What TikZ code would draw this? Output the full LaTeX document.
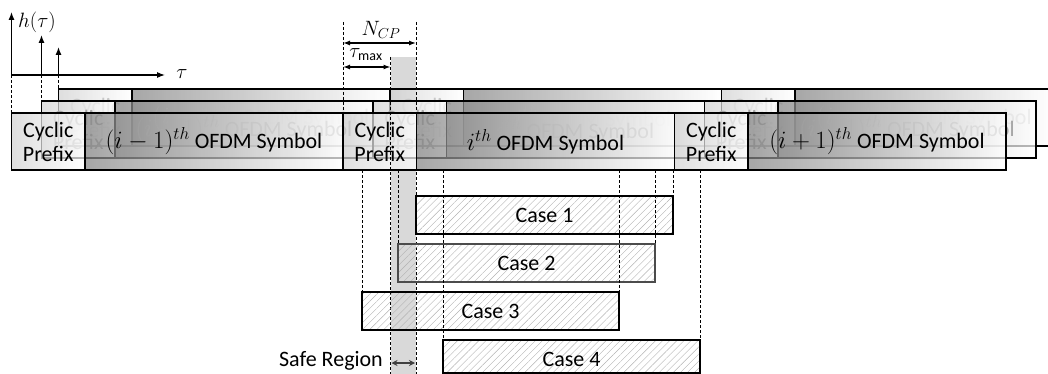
\documentclass[tikz,border=0pt]{standalone}
\usepackage{fontspec}
\setmainfont{Carlito}
\usetikzlibrary{arrows.meta,patterns.meta}
\tikzset{
  rowbox/.style={draw=black, line width=1.1pt, outer sep=0pt, inner sep=0pt,
    minimum height=57pt, align=center, font=\fontsize{22}{24}\selectfont,
    fill opacity=0.72, text opacity=1},
  cpbox/.style={rowbox, minimum width=73.5pt, left color=black!18, right color=white},
  symbox/.style={rowbox, minimum width=258pt, left color=black!48, right color=white},
  casebox/.style={draw=black, line width=1.1pt, outer sep=0pt, inner sep=0pt,
    minimum height=38pt, minimum width=257pt, anchor=north west,
    pattern={Lines[angle=45,distance=5pt,line width=0.4pt]}, pattern color=black!30,
    font=\fontsize{22}{24}\selectfont},
  dline/.style={dash pattern=on 3pt off 2pt, line width=0.9pt},
  axisarrow/.style={line width=1.1pt, -{Latex[length=8pt,width=6pt]}},
  dimarrow/.style={line width=1.3pt, {Latex[length=7pt,width=5pt]}-{Latex[length=7pt,width=5pt]}},
  safearrow/.style={line width=1.3pt, draw=black!75, {Stealth[length=6pt,width=6pt]}-{Stealth[length=6pt,width=6pt]}},
  serlabel/.style={font=\fontsize{20}{22}\selectfont, inner sep=0pt},
  safestrip/.style={fill=black!15, draw=none, inner sep=0pt, outer sep=0pt, anchor=north west}
}
\newcommand\symmath[1]{{\fontsize{25}{24}\selectfont$#1$}}
\newcommand\ofdmrow[4]{%
  \node[cpbox, text=#4, anchor=north west] (#1cpA) at (#2,#3) {Cyclic\\Prefix};
  \node[symbox, text=#4, anchor=north west] (#1symA) at (#1cpA.north east) {\symmath{(i-1)^{th}} OFDM Symbol};
  \node[cpbox, text=#4, anchor=north west] (#1cpB) at (#1symA.north east) {Cyclic\\Prefix};
  \node[symbox, text=#4, anchor=north west] (#1symB) at (#1cpB.north east) {\symmath{i^{th}} OFDM Symbol};
  \node[cpbox, text=#4, anchor=north west] (#1cpC) at (#1symB.north east) {Cyclic\\Prefix};
  \node[symbox, text=#4, anchor=north west] (#1symC) at (#1cpC.north east) {\symmath{(i+1)^{th}} OFDM Symbol};
}
\begin{document}
\begin{tikzpicture}[x=1pt,y=-1pt]
\useasboundingbox (0,0) rectangle (1048,374);
\coordinate (topline) at (0,22);
\coordinate (botline) at (0,374);
% safe region strip
\node[safestrip, minimum width=25.5pt, minimum height=317pt] (safe) at (390.5,57) {};
% channel impulse response axes
\coordinate (o) at (11.5,75);
\coordinate (ytip) at (11.5,12);
\coordinate (xtip) at (165,75);
\coordinate (imp1b) at (41.5,75);
\coordinate (imp1t) at (41.5,35);
\coordinate (imp2b) at (58.5,75);
\coordinate (imp2t) at (58.5,47);
\draw[axisarrow] (o) -- (ytip);
\draw[axisarrow] (o) -- (xtip);
\draw[axisarrow] (imp1b) -- (imp1t);
\draw[axisarrow] (imp2b) -- (imp2t);
\node[serlabel] (hlbl) at (37,22) {$h(\tau)$};
\node[serlabel] (taulbl) at (182,74) {$\tau$};
% rows of OFDM symbols
\ofdmrow{b}{58.5}{89}{black!22}
\ofdmrow{m}{41.5}{101}{black!35}
\ofdmrow{f}{11.5}{113}{black}
% dashed guides from the impulses
\draw[dline] (o) -- (fcpA.north west);
\draw[dline] (imp1b) -- (mcpA.north west);
\draw[dline] (imp2b) -- (bcpA.north west);
% CP guides
\draw[dline] (fcpB.north west |- topline) -- (fcpB.north west);
\draw[dline] (safe.north east |- topline) -- (safe.south east);
\draw[dline] (safe.north west) -- (safe.south west);
% cases
\node[casebox] (c1) at (416,196) {Case 1};
\node[casebox, draw=black!70] (c2) at (398,244) {Case 2};
\node[casebox] (c3) at (362,292) {Case 3};
\node[casebox, minimum height=33pt] (c4) at (443,340) {};
\node[font=\fontsize{22}{24}\selectfont, inner sep=0pt] (c4t) at ([yshift=-2.5pt]c4.center) {Case 4};
% dashed guides to the cases
\draw[dline] (c1.north east |- fsymB.south) -- (c1.north east);
\draw[dline] (c2.north west |- fsymB.south) -- (c2.north west);
\draw[dline] (c2.north east |- fsymB.south) -- (c2.north east);
\draw[dline] (c3.north west |- fsymB.south) -- (c3.north west);
\draw[dline] (c3.north east |- fsymB.south) -- (c3.north east);
\draw[dline] (c4.north west |- fsymB.south) -- (c4.north west);
\draw[dline] (c4.north east |- fsymB.south) -- (c4.north east);
% dimension arrows
\coordinate (ncpy) at (0,43);
\coordinate (tmy) at (0,67);
\draw[dimarrow] (fcpB.north west |- ncpy) -- (safe.north east |- ncpy);
\node[serlabel] (ncplbl) at (381,30) {$N_{CP}$};
\draw[dimarrow] (fcpB.north west |- tmy) -- (safe.north west |- tmy);
\node[serlabel] (tmlbl) at (366,55) {$\tau_{\max}$};
% safe region
\node[font=\fontsize{22}{24}\selectfont, inner sep=0pt, anchor=east] (safelbl) at (383,361) {Safe Region};
\coordinate (saL) at (391.5,363);
\coordinate (saR) at (415,363);
\draw[safearrow] (saL) -- (saR);
\end{tikzpicture}
\end{document}
